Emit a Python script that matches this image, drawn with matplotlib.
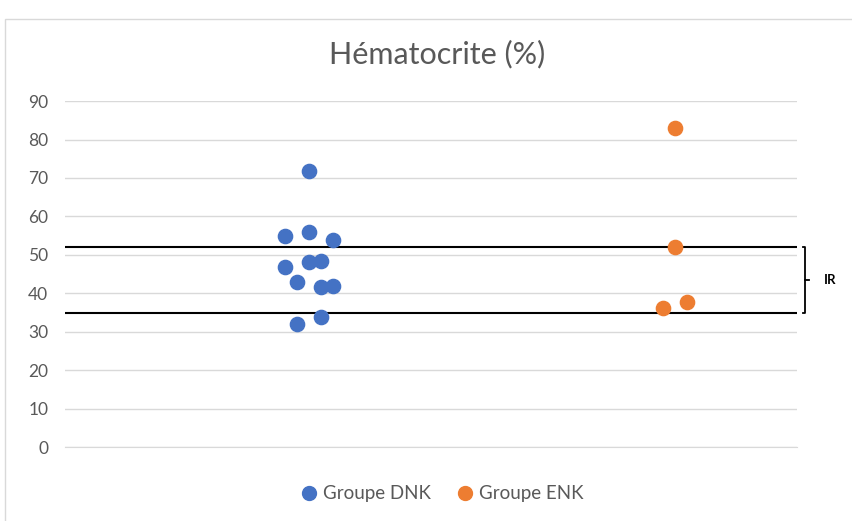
import matplotlib.pyplot as plt
from matplotlib.lines import Line2D
from matplotlib.patches import Rectangle

plt.rcParams['font.family'] = ['Lato', 'DejaVu Sans']

# data
dnk_x = [1.0, 0.9, 1.0, 1.1, 0.9, 1.0, 1.05, 0.95, 1.05, 1.1, 1.05, 0.95]
dnk_y = [71.8, 54.9, 55.9, 53.9, 46.8, 48.1, 48.4, 42.9, 41.6, 41.9, 33.8, 32.0]
enk_x = [2.5, 2.5, 2.45, 2.55]
enk_y = [83.0, 52.0, 36.2, 37.7]
ir_low, ir_high = 34.8, 52
yticks = list(range(0, 91, 10))

blue = '#4472C4'
orange = '#ED7D31'
grey = '#595959'

fig = plt.figure(figsize=(8.53, 5.21), dpi=100)
ax = fig.add_axes([0.0762, 0.142, 0.8581, 0.664])

# outer chart border
fig.patches.append(Rectangle((5 / 853, -0.01), 0.999, 0.987 - 12 / 521 + 0.01,
                             transform=fig.transFigure, fill=False,
                             edgecolor='#d9d9d9', linewidth=1))

ax.scatter(dnk_x, dnk_y, s=105, color=blue, zorder=3, label='Groupe DNK')
ax.scatter(enk_x, enk_y, s=105, color=orange, zorder=3, label='Groupe ENK')

ax.axhline(ir_high, color='black', linewidth=1.5, zorder=2)
ax.axhline(ir_low, color='black', linewidth=1.5, zorder=2)

ax.set_xlim(0, 3)
ax.set_ylim(0, 90)
ax.set_yticks(yticks)
ax.set_xticks([])
ax.grid(axis='y', color='#d9d9d9', linewidth=1)
ax.set_axisbelow(True)
for side in ['left', 'right', 'top']:
    ax.spines[side].set_visible(False)
ax.spines['bottom'].set_color('#d9d9d9')
ax.tick_params(axis='y', length=0, labelsize=12.5, labelcolor=grey, pad=12)

# IR bracket
bx = 3.035
ax.plot([bx - 0.012, bx, bx, bx - 0.012], [ir_high, ir_high, ir_low, ir_low],
        color='black', linewidth=1.3, clip_on=False)
mid = (ir_low + ir_high) / 2
ax.plot([bx, bx + 0.015], [mid, mid], color='black', linewidth=1.3, clip_on=False)
ax.text(3.11, mid, 'IR', fontsize=9.5, fontweight='bold', va='center', ha='left')

fig.text(0.512, 0.897, 'Hématocrite (%)', fontsize=22, color=grey,
         ha='center', va='center')

handles = [Line2D([], [], marker='o', linestyle='', markersize=10, color=blue),
           Line2D([], [], marker='o', linestyle='', markersize=10, color=orange)]
fig.legend(handles, ['Groupe DNK', 'Groupe ENK'], loc='center',
           bbox_to_anchor=(0.518, 0.052), ncol=2, frameon=False,
           fontsize=13.5, labelcolor=grey, handlelength=1.0,
           handletextpad=0.25, columnspacing=1.3)

fig.savefig('out.png', dpi=100)
